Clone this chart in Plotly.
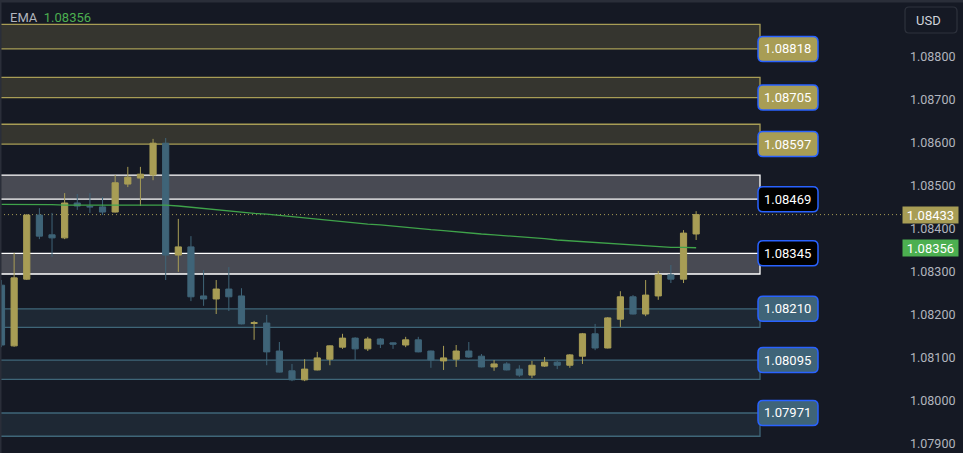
import plotly.graph_objects as go

# ---------------- data ----------------
opens = [1.08269, 1.08128, 1.08283, 1.08432, 1.08386, 1.08379, 1.08460, 1.08452, 1.08451, 1.08439,
         1.08504, 1.08518, 1.08525, 1.08599, 1.08339, 1.08358, 1.08244, 1.08237, 1.08260, 1.08244,
         1.08180, 1.08181, 1.08116, 1.08070, 1.08049, 1.08072, 1.08097, 1.08125, 1.08146, 1.08121,
         1.08144, 1.08135, 1.08130, 1.08142, 1.08116, 1.08093, 1.08097, 1.08116, 1.08104, 1.08079,
         1.08086, 1.08074, 1.08060, 1.08081, 1.08090, 1.08083, 1.08104, 1.08156, 1.08123, 1.08190,
         1.08242, 1.08202, 1.08244, 1.08293, 1.08283, 1.08388]
highs = [1.08281, 1.08344, 1.08434, 1.08448, 1.08437, 1.08483, 1.08481, 1.08483, 1.08474, 1.08525,
         1.08544, 1.08544, 1.08609, 1.08611, 1.08423, 1.08383, 1.08304, 1.08281, 1.08311, 1.08262,
         1.08186, 1.08200, 1.08137, 1.08086, 1.08097, 1.08114, 1.08129, 1.08156, 1.08148, 1.08149,
         1.08146, 1.08136, 1.08149, 1.08149, 1.08117, 1.08128, 1.08130, 1.08137, 1.08109, 1.08095,
         1.08090, 1.08083, 1.08093, 1.08102, 1.08093, 1.08109, 1.08158, 1.08179, 1.08195, 1.08255,
         1.08246, 1.08281, 1.08302, 1.08316, 1.08397, 1.08441]
lows = [1.08125, 1.08126, 1.08281, 1.08376, 1.08335, 1.08376, 1.08444, 1.08437, 1.08432, 1.08438,
        1.08497, 1.08453, 1.08513, 1.08281, 1.08300, 1.08232, 1.08221, 1.08202, 1.08209, 1.08178,
        1.08142, 1.08083, 1.08066, 1.08046, 1.08046, 1.08071, 1.08083, 1.08121, 1.08095, 1.08116,
        1.08123, 1.08121, 1.08125, 1.08113, 1.08077, 1.08072, 1.08079, 1.08100, 1.08078, 1.08070,
        1.08071, 1.08056, 1.08053, 1.08079, 1.08074, 1.08077, 1.08086, 1.08118, 1.08122, 1.08172,
        1.08201, 1.08197, 1.08235, 1.08274, 1.08274, 1.08374]
closes = [1.08130, 1.08286, 1.08432, 1.08383, 1.08379, 1.08460, 1.08453, 1.08451, 1.08439, 1.08507,
          1.08520, 1.08527, 1.08599, 1.08339, 1.08358, 1.08242, 1.08237, 1.08260, 1.08242, 1.08179,
          1.08182, 1.08114, 1.08067, 1.08049, 1.08074, 1.08100, 1.08128, 1.08146, 1.08121, 1.08144,
          1.08132, 1.08132, 1.08142, 1.08114, 1.08095, 1.08100, 1.08116, 1.08102, 1.08079, 1.08086,
          1.08072, 1.08060, 1.08083, 1.08090, 1.08083, 1.08107, 1.08156, 1.08123, 1.08193, 1.08242,
          1.08202, 1.08246, 1.08293, 1.08283, 1.08390, 1.08433]
ema = [1.08457, 1.08457, 1.08456, 1.08456, 1.08456, 1.08455, 1.08455, 1.08455, 1.08455, 1.08455,
       1.08455, 1.08456, 1.08456, 1.08455, 1.08453, 1.08450, 1.08447, 1.08445, 1.08442, 1.08439,
       1.08436, 1.08434, 1.08431, 1.08428, 1.08425, 1.08422, 1.08420, 1.08417, 1.08414, 1.08411,
       1.08409, 1.08406, 1.08404, 1.08401, 1.08398, 1.08396, 1.08393, 1.08391, 1.08388, 1.08386,
       1.08384, 1.08381, 1.08379, 1.08377, 1.08374, 1.08372, 1.08370, 1.08368, 1.08366, 1.08364,
       1.08362, 1.08360, 1.08359, 1.08357, 1.08357, 1.08356]

zone_top = [1.08875, 1.08752, 1.08643, 1.08525, 1.08343, 1.08214, 1.08095, 1.07972]
zone_bottom = [1.08818, 1.08705, 1.08597, 1.08469, 1.08295, 1.08171, 1.08050, 1.07918]
zone_kind = ["supply", "supply", "supply", "pivot", "pivot", "demand", "demand", "demand"]
zone_label = ["1.08818", "1.08705", "1.08597", "1.08469", "1.08345", "1.08210", "1.08095", "1.07971"]
label_edge = ["bottom", "bottom", "bottom", "bottom", "top", "top", "top", "top"]

last_price = 1.08433
ema_last = 1.08356
y_ticks = [1.07900, 1.08000, 1.08100, 1.08200, 1.08300, 1.08400, 1.08500, 1.08600, 1.08700, 1.08800]

# ---------------- style ----------------
W, H = 963, 453
PLOT_W = 902
BG = "#151924"
YEL = "#a89d55"
BLU = "#3f6478"
GRN = "#4caf50"
FONT = "Roboto"

styles = {
    "supply": dict(fill="#35352f", line=YEL, lab_bg=YEL),
    "pivot": dict(fill="#484a53", line="#ffffff", lab_bg="#000000"),
    "demand": dict(fill="#1e2834", line="#3f6678", lab_bg=BLU),
}

y_max = 1.0893177
y_min = y_max - H / 43030.0
ppx = (y_max - y_min) / H          # price per pixel
x0r = -1.5 / 12.63
x1r = x0r + PLOT_W / 12.63

xs = list(range(len(opens)))

fig = go.Figure()
fig.add_trace(go.Candlestick(
    x=xs, open=opens, high=highs, low=lows, close=closes,
    increasing=dict(line=dict(color=YEL, width=1), fillcolor=YEL),
    decreasing=dict(line=dict(color=BLU, width=1), fillcolor=BLU),
    whiskerwidth=0, hoverinfo="skip", showlegend=False,
))
fig.add_trace(go.Scatter(x=xs, y=ema, mode="lines", line=dict(color="#3fa34a", width=1.3),
                         hoverinfo="skip", showlegend=False))

shapes = []
annotations = []
zone_right = 760 / PLOT_W
for top, bot, kind, lab, edge in zip(zone_top, zone_bottom, zone_kind, zone_label, label_edge):
    st = styles[kind]
    shapes.append(dict(type="rect", xref="paper", yref="y", x0=-0.01, x1=zone_right, y0=bot, y1=top,
                       fillcolor=st["fill"], line=dict(color=st["line"], width=1.3), layer="below"))
    yc = bot if edge == "bottom" else top
    # rounded label box
    lx0, lx1 = 758 / PLOT_W, 818 / PLOT_W
    hy = 12.5 * ppx
    rx, ry = 5 / PLOT_W, 5 * ppx
    ya, yb = yc - hy, yc + hy
    path = (f"M {lx0+rx},{ya} L {lx1-rx},{ya} Q {lx1},{ya} {lx1},{ya+ry} L {lx1},{yb-ry} "
            f"Q {lx1},{yb} {lx1-rx},{yb} L {lx0+rx},{yb} Q {lx0},{yb} {lx0},{yb-ry} "
            f"L {lx0},{ya+ry} Q {lx0},{ya} {lx0+rx},{ya} Z")
    shapes.append(dict(type="path", xref="paper", yref="y", path=path, fillcolor=st["lab_bg"],
                       line=dict(color="#2962ff", width=1.5), layer="above"))
    annotations.append(dict(xref="paper", yref="y", x=(lx0 + lx1) / 2, y=yc, text=lab, showarrow=False,
                            font=dict(family=FONT, size=13, color="#ffffff"),
                            xanchor="center", yanchor="middle"))

# last price dotted line
shapes.append(dict(type="line", xref="paper", yref="y", x0=0, x1=1, y0=last_price, y1=last_price,
                   line=dict(color=YEL, width=1, dash="1px,3px"), layer="below"))
# frame edges
shapes.append(dict(type="rect", xref="paper", yref="paper", x0=0, x1=W / PLOT_W, y0=1 - 2.5 / H, y1=1.01,
                   fillcolor="#2a2e39", line=dict(width=0), layer="above"))
shapes.append(dict(type="rect", xref="paper", yref="paper", x0=-0.01, x1=1.5 / PLOT_W, y0=0, y1=1,
                   fillcolor="#2a2e39", line=dict(width=0), layer="above"))
# USD box (rounded)
ux0, ux1 = 905 / PLOT_W, 957 / PLOT_W
uy0, uy1 = 1 - 33 / H, 1 - 7 / H
urx, ury = 4 / PLOT_W, 4 / H
upath = (f"M {ux0+urx},{uy0} L {ux1-urx},{uy0} Q {ux1},{uy0} {ux1},{uy0+ury} L {ux1},{uy1-ury} "
         f"Q {ux1},{uy1} {ux1-urx},{uy1} L {ux0+urx},{uy1} Q {ux0},{uy1} {ux0},{uy1-ury} "
         f"L {ux0},{uy0+ury} Q {ux0},{uy0} {ux0+urx},{uy0} Z")
shapes.append(dict(type="path", xref="paper", yref="paper", path=upath,
                   fillcolor=BG, line=dict(color="#2e323d", width=1.2), layer="above"))
annotations.append(dict(xref="paper", yref="paper", x=914 / PLOT_W, y=1 - 20 / H, text="USD",
                        showarrow=False, xanchor="left", yanchor="middle",
                        font=dict(family=FONT, size=13, color="#d1d4dc")))

# price axis tags
for val, col in [(last_price, YEL), (ema_last, GRN)]:
    annotations.append(dict(xref="paper", yref="y", x=1, y=val, text=f"{val:.5f}", showarrow=False,
                            xanchor="left", yanchor="middle", bgcolor=col, width=53, height=14,
                            borderpad=1, align="center",
                            font=dict(family=FONT, size=13, color="#ffffff")))

# EMA legend
annotations.append(dict(xref="paper", yref="paper", x=8 / PLOT_W, y=1 - 18 / H,
                        text=f"EMA  <span style='color:{GRN}'>{ema_last:.5f}</span>",
                        showarrow=False, xanchor="left", yanchor="middle",
                        font=dict(family=FONT, size=13, color="#b2b5be")))

fig.update_layout(
    width=W, height=H, margin=dict(l=0, r=W - PLOT_W, t=0, b=0),
    paper_bgcolor=BG, plot_bgcolor=BG,
    shapes=shapes, annotations=annotations, showlegend=False,
    xaxis=dict(range=[x0r, x1r], visible=False, rangeslider=dict(visible=False), fixedrange=True),
    yaxis=dict(range=[y_min, y_max], side="right", tickvals=y_ticks, tickformat=".5f",
               showgrid=False, zeroline=False, showline=False, ticks="", ticklabelstandoff=7,
               tickfont=dict(family=FONT, size=12.5, color="#b2b5be"), fixedrange=True),
    font=dict(family=FONT),
)

fig.write_html("out.html", config={"displayModeBar": False})
